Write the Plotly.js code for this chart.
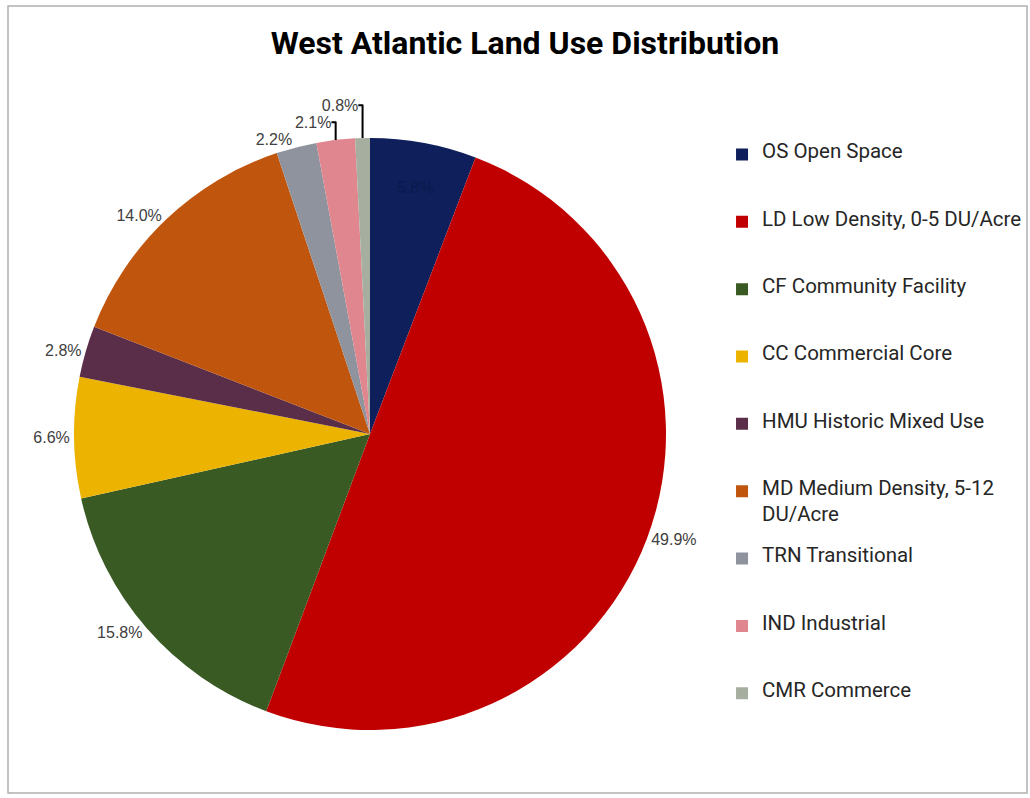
<!DOCTYPE html>
<html>
<head>
<meta charset="utf-8">
<script src="https://cdn.plot.ly/plotly-3.0.1.min.js"></script>
<style>
  html, body { margin: 0; padding: 0; background: #ffffff; }
  #chart { width: 1030px; height: 798px; }
</style>
</head>
<body>
<div id="chart"></div>
<script>
// ---- data ----
const categories = [
  "OS Open Space",
  "LD Low Density, 0-5 DU/Acre",
  "CF Community Facility",
  "CC Commercial Core",
  "HMU Historic Mixed Use",
  "MD Medium Density, 5-12|DU/Acre",
  "TRN Transitional",
  "IND Industrial",
  "CMR Commerce"
];
const sharePct = [5.8, 49.9, 15.8, 6.6, 2.8, 14.0, 2.2, 2.1, 0.8];
const sliceColors = ["#0e1f5b", "#c00000", "#3a5a23", "#ecb400", "#5a2d48", "#c0560e", "#8f939d", "#e0868e", "#a5ae9f"];
const labelPlacement = ["inside", "outside", "outside", "outside", "outside", "outside", "outside", "outside", "outside"];
const labelColors = ["#0b1a4d", "#404040", "#404040", "#404040", "#404040", "#404040", "#404040", "#404040", "#404040"];

// legend labels: each entry laid out on 5 thin lines so the entries sit on an even grid
const legendLabels = categories.map(c => {
  const parts = c.split("|").map(p => '<span style="font-size:20.5px">' + p + '</span>');
  const lines = [];
  parts.forEach((p, i) => { if (i > 0) lines.push(" "); lines.push(p); });
  while (lines.length < 5) lines.push(" ");
  return lines.join("<br>");
});

const trace = {
  type: "pie",
  labels: legendLabels,
  values: sharePct,
  sort: false,
  direction: "clockwise",
  rotation: 0,
  marker: { colors: sliceColors, line: { width: 0 } },
  textposition: labelPlacement,
  texttemplate: "%{value:.1f}%",
  textinfo: "text",
  insidetextorientation: "horizontal",
  textfont: { family: "Liberation Sans, Arial, sans-serif", size: 16, color: labelColors },
  hoverinfo: "label+percent",
  domain: { x: [74 / 1030, 666 / 1030], y: [1 - 730 / 798, 1 - 138 / 798] }
};

const layout = {
  width: 1030,
  height: 798,
  margin: { l: 0, r: 0, t: 0, b: 0 },
  paper_bgcolor: "#ffffff",
  title: {
    text: "<b>West Atlantic Land Use Distribution</b>",
    font: { family: "Roboto, Liberation Sans, sans-serif", size: 32, color: "#000000" },
    x: 525 / 1030, xref: "container", xanchor: "center",
    y: 1 - 43 / 798, yref: "container", yanchor: "middle"
  },
  showlegend: true,
  legend: {
    x: 0.701, xanchor: "left",
    y: 1 - 141.5 / 798, yanchor: "top",
    valign: "top",
    font: { family: "Roboto, Liberation Sans, sans-serif", size: 9.9, color: "#262626" },
    bgcolor: "rgba(0,0,0,0)",
    traceorder: "normal"
  },
  shapes: [
    { type: "rect", xref: "paper", yref: "paper",
      x0: 8 / 1030, x1: 1027 / 1030, y0: 1 - 793 / 798, y1: 1 - 6 / 798,
      line: { color: "#b0b0b0", width: 1.5 }, fillcolor: "rgba(0,0,0,0)", layer: "below" }
  ]
};

Plotly.newPlot("chart", [trace], layout, { displayModeBar: false, staticPlot: true });
</script>
</body>
</html>
